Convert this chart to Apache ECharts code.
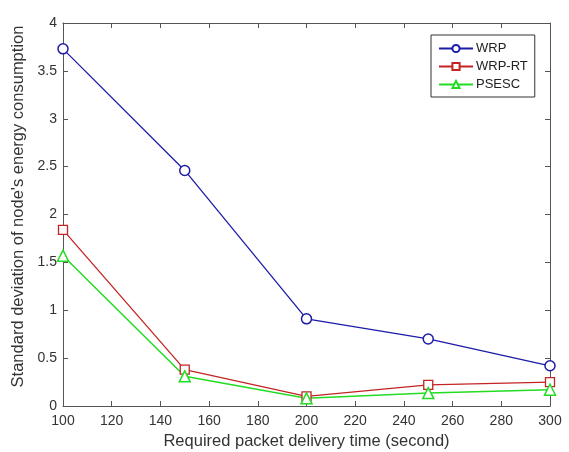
<!DOCTYPE html>
<html><head><meta charset="utf-8">
<script src="https://cdn.jsdelivr.net/npm/echarts@6/dist/echarts.min.js"></script>
<style>html,body{margin:0;padding:0;background:#fff}#c{width:569px;height:452px}</style>
</head><body><div id="c"></div>
<script>
const xValues = [100, 150, 200, 250, 300];
const wrp = [3.73, 2.46, 0.91, 0.70, 0.42];
const wrpRT = [1.84, 0.38, 0.10, 0.22, 0.25];
const psesc = [1.57, 0.31, 0.08, 0.135, 0.17];
const seriesNames = ['WRP', 'WRP-RT', 'PSESC'];

const font = 'Liberation Sans, Arial, sans-serif';
const axisCol = '#555';
function pairs(v){ return xValues.map((x,i)=>[x, v[i]]); }
const chart = echarts.init(document.getElementById('c'));
const baseX = {type:'value', min:100, max:300, interval:20,
  axisLine:{show:true, onZero:false, lineStyle:{color:axisCol}},
  axisTick:{show:true, inside:true, length:5, lineStyle:{color:axisCol}},
  splitLine:{show:false}};
const baseY = {type:'value', min:0, max:4, interval:0.5,
  axisLine:{show:true, onZero:false, lineStyle:{color:axisCol}},
  axisTick:{show:true, inside:true, length:5, lineStyle:{color:axisCol}},
  splitLine:{show:false}};
chart.setOption({
  animation:false,
  textStyle:{fontFamily:font},
  grid:{left:63, right:19, top:23, bottom:46, containLabel:false, outerBoundsMode:'none'},
  xAxis:[
    Object.assign({}, baseX, {position:'bottom',
      axisLabel:{color:'#333', fontSize:14, fontFamily:font, margin:8},
      name:'Required packet delivery time (second)', nameLocation:'middle', nameGap:27,
      nameTextStyle:{color:'#333', fontSize:16.5, fontFamily:font}}),
    Object.assign({}, baseX, {position:'top', axisLabel:{show:false}})
  ],
  yAxis:[
    Object.assign({}, baseY, {position:'left',
      axisLabel:{color:'#333', fontSize:14, fontFamily:font, margin:6},
      name:"Standard deviation of node's energy consumption", nameLocation:'middle', nameGap:35,
      nameTextStyle:{color:'#333', fontSize:16.5, fontFamily:font, padding:[0,0,0,16]}}),
    Object.assign({}, baseY, {position:'right', axisLabel:{show:false}})
  ],
  legend:{
    data:seriesNames, orient:'vertical', left:431, top:35,
    backgroundColor:'#fff', borderColor:'#333', borderWidth:1, padding:[7,7,6,7],
    itemGap:5, itemWidth:34, itemHeight:9,
    textStyle:{fontSize:13, color:'#222', fontFamily:font, padding:[0,0,0,-2]}
  },
  series:[
    {name:'WRP', type:'line', data:pairs(wrp), symbol:'circle', symbolSize:10,
     lineStyle:{color:'#1c1ca8', width:1.3},
     itemStyle:{color:'#fff', borderColor:'#1c1ca8', borderWidth:1.5}},
    {name:'WRP-RT', type:'line', data:pairs(wrpRT), symbol:'rect', symbolSize:9,
     lineStyle:{color:'#c42424', width:1.3},
     itemStyle:{color:'#fff', borderColor:'#c42424', borderWidth:1.3}},
    {name:'PSESC', type:'line', data:pairs(psesc), symbol:'triangle', symbolSize:11,
     lineStyle:{color:'#22dd22', width:1.5},
     itemStyle:{color:'#fff', borderColor:'#22dd22', borderWidth:1.5}}
  ]
});
</script></body></html>
